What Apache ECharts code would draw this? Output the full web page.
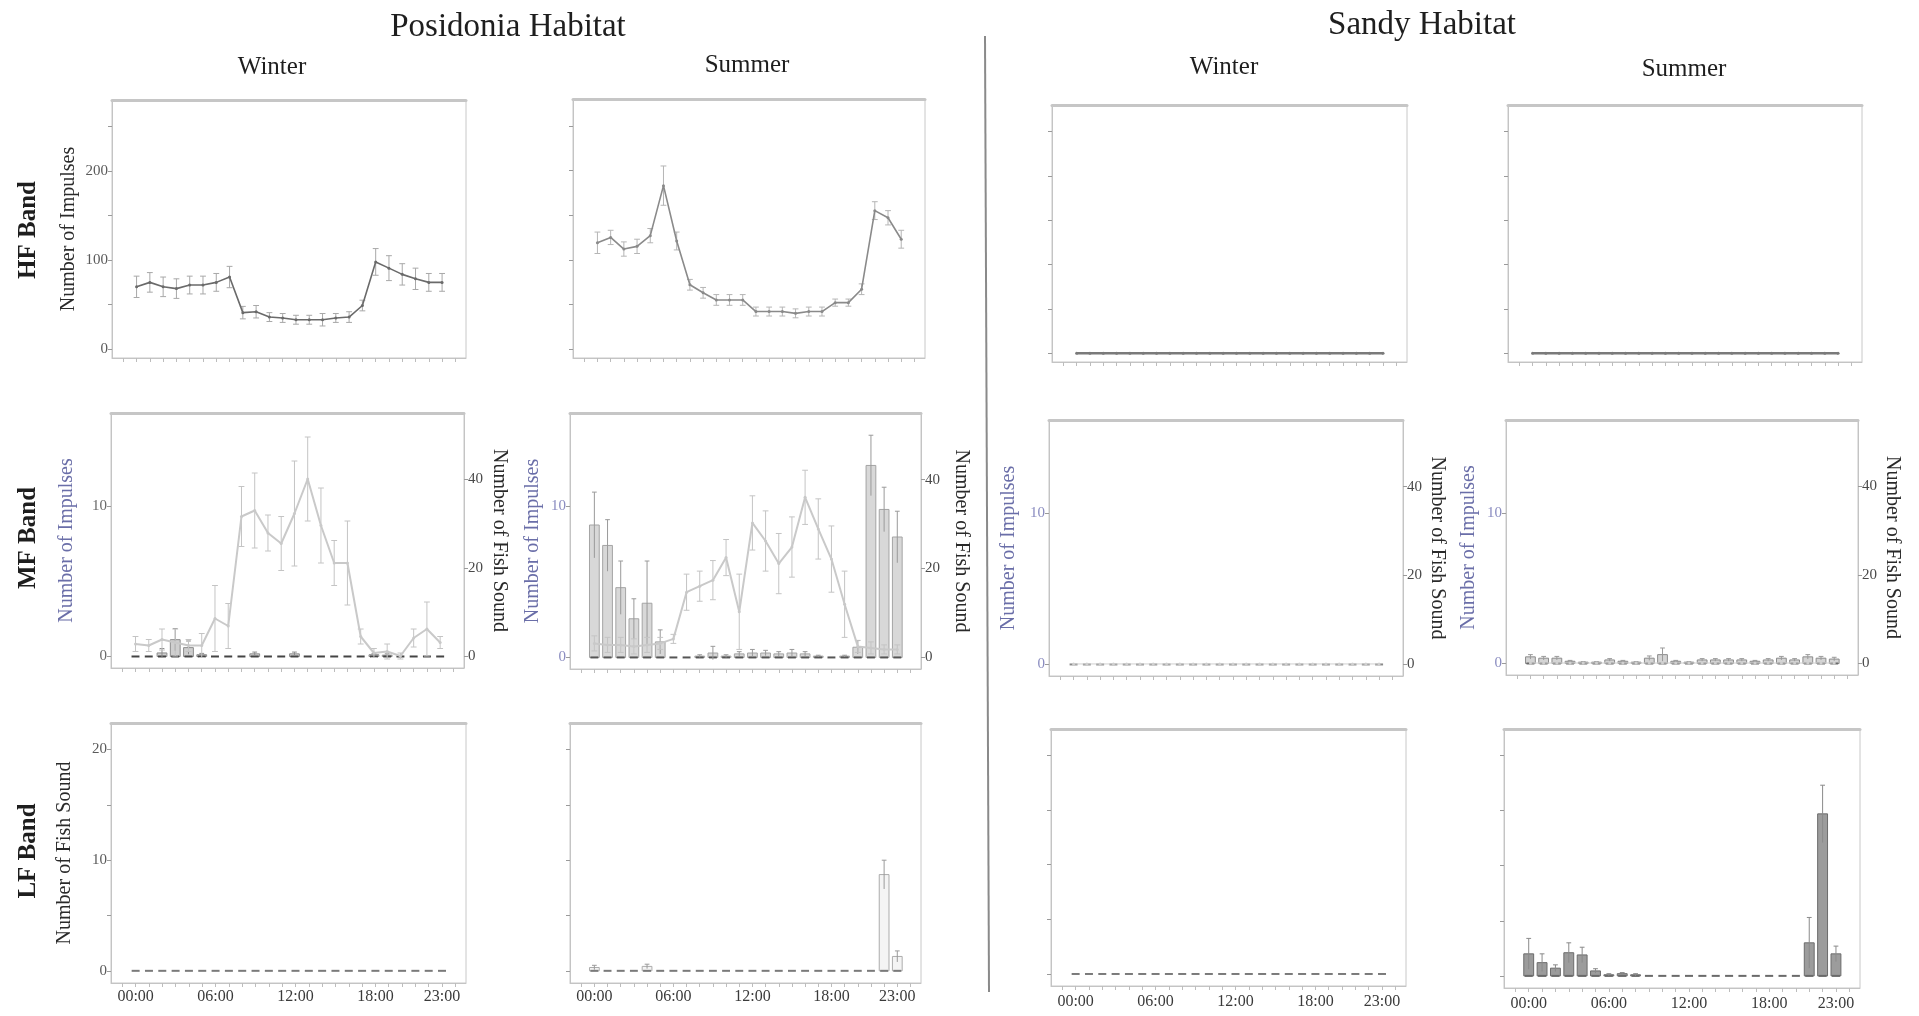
<!DOCTYPE html>
<html><head><meta charset="utf-8">
<script src="https://cdn.jsdelivr.net/npm/echarts@6/dist/echarts.min.js"></script>
<style>html,body{margin:0;padding:0;background:#fff}#c{width:1919px;height:1016px}</style>
</head><body><div id="c"></div>
<script>
// ---------- DATA ----------
const hours = [0,1,2,3,4,5,6,7,8,9,10,11,12,13,14,15,16,17,18,19,20,21,22,23];
const xLabelHours = [0,6,12,18,23];
const xLabelTexts = ['00:00','06:00','12:00','18:00','23:00'];
const xTickHours = [-1,0,1,2,3,4,5,6,7,8,9,10,11,12,13,14,15,16,17,18,19,20,21,22,23,24];

const hfTicks = [0,50,100,150,200,250];
const hfLabels = [0,100,200];
const mfLeftTicks = [0,10];
const mfLeftLabels = [0,10];
const mfRightTicks = [0,20,40];
const mfRightLabels = [0,20,40];
const lfTicks = [0,5,10,15,20];
const lfLabels = [0,10,20];

// HF band: Number of Impulses
const hfPosWinter    = [70,75,70,68,72,72,75,81,41,42,36,35,33,33,33,35,36,49,98,91,84,79,75,75];
const hfPosWinterErr = [12,11,11,11,10,10,10,12,7,7,5,5,5,5,7,5,6,6,15,14,12,12,10,10];
const hfPosSummer    = [119,125,112,115,127,183,121,72,63,55,55,55,42,42,42,40,42,42,52,52,67,155,147,123];
const hfPosSummerErr = [12,8,8,8,8,22,10,6,6,6,6,6,5,5,5,5,5,5,4,4,6,10,8,10];
const hfSandyWinter  = [0,0,0,0,0,0,0,0,0,0,0,0,0,0,0,0,0,0,0,0,0,0,0,0];
const hfSandySummer  = [0,0,0,0,0,0,0,0,0,0,0,0,0,0,0,0,0,0,0,0,0,0,0,0];

// MF band: Number of Impulses (left) and Number of Fish Sound (right)
const mfPosWinterImp     = [0.8,0.7,1.1,0.9,0.7,0.7,2.5,2.0,9.3,9.7,8.2,7.5,9.5,11.8,8.7,6.2,6.2,1.3,0.2,0.3,0.0,1.2,1.8,0.9];
const mfPosWinterImpErr  = [0.5,0.4,0.7,0.9,0.4,0.8,2.2,1.5,2.0,2.5,1.2,1.8,3.5,2.8,2.5,1.5,2.8,0.5,0.3,0.5,0.2,0.6,1.8,0.4];
const mfPosWinterFish    = [0,0,0.8,3.8,2.0,0.4,0,0,0,0.6,0,0,0.6,0,0,0,0,0,0.4,0.3,0,0,0,0];
const mfPosWinterFishErr = [0,0,1.0,2.5,1.5,0.3,0,0,0,0.4,0,0,0.4,0,0,0,0,0,0.3,0.3,0,0,0,0];
const mfPosSummerImp     = [0.9,0.8,0.8,0.7,0.8,0.9,1.2,4.3,4.7,5.1,6.6,3.0,8.9,7.7,6.2,7.3,10.6,8.5,6.5,3.5,0.7,0.6,0.5,0.5];
const mfPosSummerImpErr  = [0.5,0.5,0.5,0.5,0.5,0.4,0.3,1.2,1.0,1.3,1.2,2.5,1.8,2.0,2.0,2.0,1.8,2.0,2.2,2.2,0.4,0.4,0.3,0.3];
const mfPosSummerFish    = [29.8,25.2,15.7,8.7,12.2,3.5,0,0,0.3,1.0,0.3,0.8,1.0,1.0,0.8,1.0,0.8,0.3,0,0.3,2.3,43.2,33.3,27.1];
const mfPosSummerFishErr = [7.4,5.8,6.0,4.5,9.5,2.7,0,0,0.3,1.5,0.3,0.5,0.8,0.6,0.5,0.8,0.5,0.2,0,0.2,1.5,6.8,5.0,5.8];
const mfSandyWinterImp   = [0,0,0,0,0,0,0,0,0,0,0,0,0,0,0,0,0,0,0,0,0,0,0,0];
const mfSandyWinterFish  = [0,0,0,0,0,0,0,0,0,0,0,0,0,0,0,0,0,0,0,0,0,0,0,0];
const mfSandySummerImp   = [0,0,0,0,0,0,0,0,0,0,0,0,0,0,0,0,0,0,0,0,0,0,0,0];
const mfSandySummerFish    = [1.5,1.2,1.2,0.5,0.3,0.3,0.8,0.5,0.3,1.2,2.0,0.5,0.3,0.8,0.8,0.8,0.8,0.5,0.8,1.2,0.8,1.5,1.2,1.0];
const mfSandySummerFishErr = [0.5,0.4,0.4,0.2,0.1,0.1,0.3,0.2,0.1,0.5,1.5,0.2,0.1,0.3,0.3,0.3,0.3,0.2,0.3,0.4,0.3,0.5,0.4,0.4];

// LF band: Number of Fish Sound
const lfPosWinter      = [0,0,0,0,0,0,0,0,0,0,0,0,0,0,0,0,0,0,0,0,0,0,0,0];
const lfPosSummer      = [0.3,0,0,0,0.4,0,0,0,0,0,0,0,0,0,0,0,0,0,0,0,0,0,8.7,1.3];
const lfPosSummerErr   = [0.2,0,0,0,0.2,0,0,0,0,0,0,0,0,0,0,0,0,0,0,0,0,0,1.3,0.5];
const lfSandyWinter    = [0,0,0,0,0,0,0,0,0,0,0,0,0,0,0,0,0,0,0,0,0,0,0,0];
const lfSandySummer    = [2.0,1.2,0.7,2.1,1.9,0.45,0.1,0.2,0.1,0,0,0,0,0,0,0,0,0,0,0,0,3.0,14.7,2.0];
const lfSandySummerErr = [1.4,0.8,0.3,0.9,0.7,0.2,0.1,0.1,0.1,0,0,0,0,0,0,0,0,0,0,0,0,2.3,2.6,0.7];

// ---------- BUILD ----------
const FONT = '"Liberation Serif", "DejaVu Serif", serif';
const chart = echarts.init(document.getElementById('c'), null, {renderer:'canvas'});
const option = {animation:false, backgroundColor:'#fff', grid:[], xAxis:[], yAxis:[], series:[], graphic:[]};

function triples(vals, errs){ return hours.map((h,i)=>[h, vals[i], errs ? errs[i] : 0]); }

function errRender(color){
  return function(params, api){
    const x = api.value(0), v = api.value(1), e = api.value(2);
    if (!e) return null;
    const lo = api.coord([x, v - e]), hi = api.coord([x, v + e]);
    const c = api.size([0.22,0])[0];
    const st = {stroke:color, lineWidth:1};
    return {type:'group', children:[
      {type:'line', shape:{x1:lo[0],y1:lo[1],x2:hi[0],y2:hi[1]}, style:st},
      {type:'line', shape:{x1:hi[0]-c,y1:hi[1],x2:hi[0]+c,y2:hi[1]}, style:st},
      {type:'line', shape:{x1:lo[0]-c,y1:lo[1],x2:lo[0]+c,y2:lo[1]}, style:st}
    ]};
  };
}
function barRender(fill, stroke, dash, errColor){
  return function(params, api){
    const x = api.value(0), v = api.value(1), e = api.value(2);
    const p0 = api.coord([x, 0]), p1 = api.coord([x, v]);
    const w = api.size([0.74,0])[0];
    const dw = api.size([0.6,0])[0];
    const ch = [];
    if (v > 0) {
      ch.push({type:'rect', shape:{x:p0[0]-w/2, y:p1[1], width:w, height:p0[1]-p1[1]}, style:{fill:fill, stroke:stroke, lineWidth:1}});
    }
    ch.push({type:'line', shape:{x1:p0[0]-dw/2, y1:p0[1], x2:p0[0]+dw/2, y2:p0[1]}, style:{stroke:dash, lineWidth:2}});
    if (e > 0) {
      const lo = api.coord([x, v - e]), hi = api.coord([x, v + e]);
      const c = api.size([0.18,0])[0];
      ch.push({type:'line', shape:{x1:lo[0],y1:lo[1],x2:hi[0],y2:hi[1]}, style:{stroke:errColor, lineWidth:1}});
      ch.push({type:'line', shape:{x1:hi[0]-c,y1:hi[1],x2:hi[0]+c,y2:hi[1]}, style:{stroke:errColor, lineWidth:1}});
    }
    return {type:'group', children:ch};
  };
}

function addGrid(box, showXLabels, xMargin){
  const gi = option.grid.length;
  option.grid.push({left:box[0], top:box[1], width:box[2], height:box[3], show:true,
    borderColor:'#c8c8c8', borderWidth:1, backgroundColor:'#fff', outerBoundsMode:'none', containLabel:false});
  option.xAxis.push({type:'value', gridIndex:gi, min:-1.85, max:24.8, position:'bottom',
    axisLine:{show:true, onZero:false, lineStyle:{color:'#c4c4c4', width:1}},
    axisTick:{show:true, customValues:xTickHours, length:4, lineStyle:{color:'#bdbdbd'}},
    axisLabel:{show:showXLabels, customValues:xLabelHours, color:'#3a3a3a', fontFamily:FONT, fontSize:16, margin:xMargin,
      formatter:(v)=>xLabelTexts[xLabelHours.indexOf(v)] || ''},
    splitLine:{show:false}});
  option.xAxis.push({type:'value', gridIndex:gi, min:-1.85, max:24.8, position:'top',
    axisLine:{show:true, onZero:false, lineStyle:{color:'#c6c6c6', width:3}},
    axisTick:{show:false}, axisLabel:{show:false}, splitLine:{show:false}});
  return {gi:gi, xi:gi*2};
}
function addY(gi, pos, min, max, ticks, labels, name, nameColor, nameGap, labelColor){
  const yi = option.yAxis.length;
  option.yAxis.push({type:'value', gridIndex:gi, position:pos, min:min, max:max,
    name:name || '', nameLocation:'middle', nameGap:nameGap || 30, nameRotate: pos === 'right' ? -90 : 90,
    nameTextStyle:{color:nameColor || '#2a2a2a', fontFamily:FONT, fontSize:20},
    axisLine:{show:true, onZero:false, lineStyle:{color:'#c4c4c4'}},
    axisTick:{show:true, customValues:ticks, length:4, lineStyle:{color:'#9a9a9a'}},
    axisLabel:{show:!!labels, customValues:labels || ticks, color:labelColor || '#5a5a5a', fontFamily:FONT, fontSize:15, margin:4},
    splitLine:{show:false}});
  return yi;
}
function addLine(xi, yi, vals, errs, color, width, errColor){
  option.series.push({type:'line', xAxisIndex:xi, yAxisIndex:yi, data:hours.map((h,i)=>[h, vals[i]]),
    symbol:'circle', symbolSize:3, lineStyle:{color:color, width:width}, itemStyle:{color:color}, z:4});
  if (errs) option.series.push({type:'custom', xAxisIndex:xi, yAxisIndex:yi, data:triples(vals, errs),
    encode:{x:0, y:1}, renderItem:errRender(errColor), z:3});
}
function addBars(xi, yi, vals, errs, fill, stroke, dash, errColor){
  option.series.push({type:'custom', xAxisIndex:xi, yAxisIndex:yi, data:triples(vals, errs),
    encode:{x:0, y:1}, renderItem:barRender(fill, stroke, dash, errColor), z:2});
}

const HF_MIN = -10, HF_MAX = 280;
const MFL_MIN = -0.8, MFL_MAX = 16.2, MFR_MIN = -2.6, MFR_MAX = 55;
const LF_MIN = -1.1, LF_MAX = 22.4;
const IMP_BLUE = '#6a6ea8';

// Row 1: HF
let p = addGrid([112,100,354,258], false, 6);
let y = addY(p.gi,'left',HF_MIN,HF_MAX,hfTicks,hfLabels,'Number of Impulses','#2a2a2a',33);
addLine(p.xi, y, hfPosWinter, hfPosWinterErr, '#6a6a6a', 1.6, '#a8a8a8');

p = addGrid([573,99,352,259], false, 6);
y = addY(p.gi,'left',HF_MIN,HF_MAX,hfTicks,null);
addLine(p.xi, y, hfPosSummer, hfPosSummerErr, '#8a8a8a', 1.6, '#b5b5b5');

p = addGrid([1052,105,355,257], false, 6);
y = addY(p.gi,'left',HF_MIN,HF_MAX,hfTicks,null);
addLine(p.xi, y, hfSandyWinter, null, '#7a7a7a', 2.5);

p = addGrid([1508,105,354,257], false, 6);
y = addY(p.gi,'left',HF_MIN,HF_MAX,hfTicks,null);
addLine(p.xi, y, hfSandySummer, null, '#7a7a7a', 2.5);

// Row 2: MF
p = addGrid([111,413,353,255], false, 6);
y = addY(p.gi,'left',MFL_MIN,MFL_MAX,mfLeftTicks,mfLeftLabels,'Number of Impulses',IMP_BLUE,34,'#6a6a6a');
let y2 = addY(p.gi,'right',MFR_MIN,MFR_MAX,mfRightTicks,mfRightLabels,'Number of Fish Sound','#2a2a2a',25,'#4a4a4a');
addBars(p.xi, y2, mfPosWinterFish, mfPosWinterFishErr, '#cfcfcf', '#8c8c8c', '#444', '#8c8c8c');
addLine(p.xi, y, mfPosWinterImp, mfPosWinterImpErr, '#c9c9c9', 2, '#c4c4c4');

p = addGrid([570,413,351,256], false, 6);
y = addY(p.gi,'left',MFL_MIN,MFL_MAX,mfLeftTicks,mfLeftLabels,'Number of Impulses',IMP_BLUE,27,'#8a8cc0');
y2 = addY(p.gi,'right',MFR_MIN,MFR_MAX,mfRightTicks,mfRightLabels,'Number of Fish Sound','#2a2a2a',30,'#4a4a4a');
addBars(p.xi, y2, mfPosSummerFish, mfPosSummerFishErr, '#d8d8d8', '#a4a4a4', '#555', '#9a9a9a');
addLine(p.xi, y, mfPosSummerImp, mfPosSummerImpErr, '#c9c9c9', 2, '#c4c4c4');

p = addGrid([1049,420,354,256], false, 6);
y = addY(p.gi,'left',MFL_MIN,MFL_MAX,mfLeftTicks,mfLeftLabels,'Number of Impulses',IMP_BLUE,30,'#8a8cc0');
y2 = addY(p.gi,'right',MFR_MIN,MFR_MAX,mfRightTicks,mfRightLabels,'Number of Fish Sound','#2a2a2a',24,'#4a4a4a');
addBars(p.xi, y2, mfSandyWinterFish, null, '#cfcfcf', '#8c8c8c', '#8a8a8a', '#8c8c8c');
addLine(p.xi, y, mfSandyWinterImp, null, '#d0d0d0', 1);

p = addGrid([1506,420,352,255], false, 6);
y = addY(p.gi,'left',MFL_MIN,MFL_MAX,mfLeftTicks,mfLeftLabels,'Number of Impulses',IMP_BLUE,27,'#8a8cc0');
y2 = addY(p.gi,'right',MFR_MIN,MFR_MAX,mfRightTicks,mfRightLabels,'Number of Fish Sound','#2a2a2a',24,'#4a4a4a');
addBars(p.xi, y2, mfSandySummerFish, mfSandySummerFishErr, '#d4d4d4', '#8c8c8c', '#6a6a6a', '#9a9a9a');
addLine(p.xi, y, mfSandySummerImp, null, '#d0d0d0', 1);

// Row 3: LF
p = addGrid([111,723,355,260], true, 6);
y = addY(p.gi,'left',LF_MIN,LF_MAX,lfTicks,lfLabels,'Number of Fish Sound','#2a2a2a',36);
addBars(p.xi, y, lfPosWinter, null, '#ddd', '#999', '#7a7a7a', '#999');

p = addGrid([570,723,351,260], true, 6);
y = addY(p.gi,'left',LF_MIN,LF_MAX,lfTicks,null);
addBars(p.xi, y, lfPosSummer, lfPosSummerErr, '#f4f4f4', '#acacac', '#7a7a7a', '#9a9a9a');

p = addGrid([1051,729,355,257], true, 8);
y = addY(p.gi,'left',LF_MIN,LF_MAX,lfTicks,null);
addBars(p.xi, y, lfSandyWinter, null, '#ddd', '#999', '#7a7a7a', '#999');

p = addGrid([1504,729,356,259], true, 8);
y = addY(p.gi,'left',LF_MIN,LF_MAX,lfTicks,null);
addBars(p.xi, y, lfSandySummer, lfSandySummerErr, '#9c9c9c', '#6c6c6c', '#6a6a6a', '#8a8a8a');

// ---------- TEXT & DIVIDER ----------
function txt(t, x, y, size, bold, rot){
  option.graphic.push({type:'text', x:x, y:y, rotation:rot || 0,
    style:{text:t, fill:'#1e1e1e', font:(bold ? 'bold ' : '') + size + 'px ' + FONT, textAlign:'center', textVerticalAlign:'middle'}});
}
txt('Posidonia Habitat', 508, 27, 33, false);
txt('Sandy Habitat', 1422, 25, 33, false);
txt('Winter', 272, 67, 25, false);
txt('Summer', 747, 65, 25, false);
txt('Winter', 1224, 67, 25, false);
txt('Summer', 1684, 69, 25, false);
txt('HF Band', 29, 230, 25, true, Math.PI/2);
txt('MF Band', 29, 538, 25, true, Math.PI/2);
txt('LF Band', 29, 851, 25, true, Math.PI/2);
option.graphic.push({type:'line', shape:{x1:985, y1:36, x2:989, y2:992}, style:{stroke:'#8a8a8a', lineWidth:2}});

chart.setOption(option);
</script>
</body></html>
